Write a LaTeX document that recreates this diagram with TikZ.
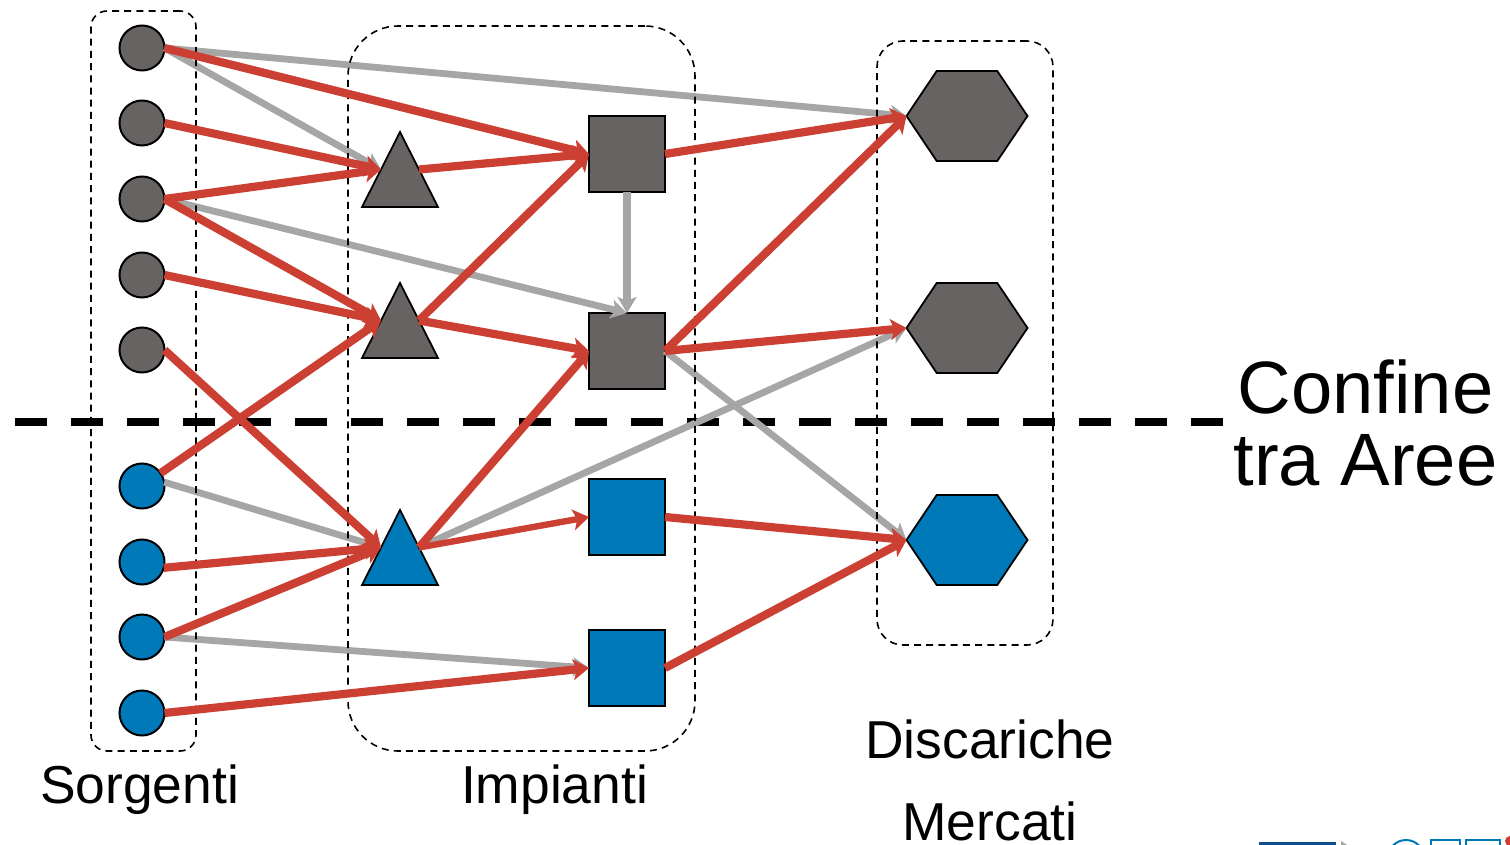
\documentclass[tikz,border=0pt]{standalone}
\usepackage{fontspec}
\setmainfont{Liberation Sans}
\usetikzlibrary{arrows.meta,shapes.geometric}
\definecolor{dk}{HTML}{676362}
\definecolor{bl}{HTML}{0079B8}
\definecolor{rd}{HTML}{CC4033}
\definecolor{gy}{HTML}{A6A6A6}
\definecolor{lg}{HTML}{0F4F8F}
\tikzset{
 x=0.5pt,y=-0.5pt,
 circ/.style={circle,draw=black,line width=1pt,minimum size=22.5pt,inner sep=0,outer sep=0,fill=#1},
 squ/.style={rectangle,draw=black,line width=0.9pt,minimum size=38pt,inner sep=0,outer sep=0,fill=#1},
 tri/.style={regular polygon,regular polygon sides=3,draw=black,line width=0.9pt,minimum size=50pt,inner sep=0,outer sep=0,xscale=.877,fill=#1},
 hexa/.style={regular polygon,regular polygon sides=6,draw=black,line width=0.9pt,minimum size=60.5pt,inner sep=0,outer sep=0,yscale=.86,fill=#1},
 redl/.style={draw=rd,line width=#1,-{Stealth[length=8pt,width=10.5pt,inset=2pt]}},
 redl/.default=4.1pt,
 gryl/.style={draw=gy,line width=#1,-{Stealth[length=8pt,width=9.5pt,inset=2pt]}},
 gryl/.default=3.4pt,
 frame/.style={draw=black,line width=0.8pt,dash pattern=on 3.5pt off 2.6pt},
 lab/.style={font=\fontsize{26.7pt}{30pt}\selectfont,anchor=base,inner sep=0,text=black},
 biglab/.style={font=\fontsize{37.1pt}{40pt}\selectfont,anchor=base,inner sep=0,text=black},
}
\begin{document}
\begin{tikzpicture}
\path[use as bounding box] (0,0) rectangle (1510,845);
\clip (0,0) rectangle (1510,845);
% boundary
\coordinate (bL) at (15,421.5);
\coordinate (bR) at (1223,421.5);
\draw[black,line width=4pt,dash pattern=on 16pt off 12pt] (bL) -- (bR);
% nodes
\foreach \n/\yy/\c in {c1/48/dk,c2/123/dk,c3/199/dk,c4/275/dk,c5/350/dk,c6/486/bl,c7/562/bl,c8/637/bl,c9/713/bl}
  \node[circ=\c] (\n) at (142,\yy) {};
\node[tri=dk] (t1) at (400,182) {};
\node[tri=dk] (t2) at (400,333) {};
\node[tri=bl] (t3) at (400,560) {};
\node[squ=dk] (s1) at (627,154) {};
\node[squ=dk] (s2) at (627,351) {};
\node[squ=bl] (s3) at (627,517) {};
\node[squ=bl] (s4) at (627,668) {};
\node[hexa=dk] (h1) at (967,116) {};
\node[hexa=dk] (h2) at (967,328) {};
\node[hexa=bl] (h3) at (967,540) {};
% grey connectors
\draw[gryl] (c1.east) -- (h1.west);
\draw[gryl] (c1.east) -- (t1.side 1);
\draw[gryl] (c3.east) -- (s2.north);
\draw[gryl=3.7pt] (s1) -- (s2);
\draw[gryl] (c6.10) -- (t3.side 1);
\draw[gryl] (c8.east) -- (s4.west);
\draw[gryl] (s2.east) -- (h3.west);
\draw[gryl] (t3.side 3) -- (h2.west);
% frames
\node[frame,rectangle,rounded corners=8pt,minimum width=52.5pt,minimum height=370pt,inner sep=0] (f1) at (143.5,381) {};
\node[frame,rectangle,rounded corners=25pt,minimum width=173.5pt,minimum height=362.5pt,inner sep=0] (f2) at (521.5,388.5) {};
\node[frame,rectangle,rounded corners=13pt,minimum width=88pt,minimum height=302pt,inner sep=0] (f3) at (965,343) {};
% red connectors
\draw[redl] (c1.east) -- (s1.west);
\draw[redl] (c2.east) -- (t1.side 1);
\draw[redl] (c3.east) -- (t1.side 1);
\draw[redl] (c3.east) -- (t2.side 1);
\draw[redl] (c4.east) -- (t2.side 1);
\draw[redl] (c5.east) -- (t3.side 1);
\draw[redl] (c6) -- (t2.side 1);
\draw[redl] (c7.-15) -- (t3.side 1);
\draw[redl] (c8.east) -- (t3.side 1);
\draw[redl] (c9.east) -- (s4.west);
\draw[redl] (t1.side 3) -- (s1.west);
\draw[redl] (t2.side 3) -- (s1.west);
\draw[redl] (t2.side 3) -- (s2.west);
\draw[redl] (t3.side 3) -- (s2.west);
\draw[redl=3.2pt] (t3.side 3) -- (s3.west);
\draw[redl] (s1.east) -- (h1.west);
\draw[redl] (s2.east) -- (h1.west);
\draw[redl] (s2.east) -- (h2.west);
\draw[redl] (s3.east) -- (h3.west);
\draw[redl] (s4.east) -- (h3.west);
% labels
\node[biglab] (conf) at (1365.5,413) {Confine};
\node[biglab] (tra) at (1365.5,485) {tra Aree};
\node[lab] (sorg) at (139.5,803) {Sorgenti};
\node[lab] (imp) at (554.5,803) {Impianti};
\node[lab] (disc) at (990,758) {Discariche};
\node[lab] (merc) at (990,840) {Mercati};
% logo fragment at the page edge
\fill[lg] (1259,841.5) rectangle (1336,850);
\fill[gy] (1341,841) -- (1347,845) -- (1341,845) -- cycle;
\draw[bl,line width=1pt] (1406,858) circle[radius=18];
\draw[bl,line width=1pt] (1431,850) -- (1431,840) -- (1460,840) -- (1460,850);
\draw[bl,line width=1pt] (1466,850) -- (1466,840) -- (1500,840) -- (1500,850);
\fill[rd] (1510,841) circle[radius=5];
\end{tikzpicture}
\end{document}
